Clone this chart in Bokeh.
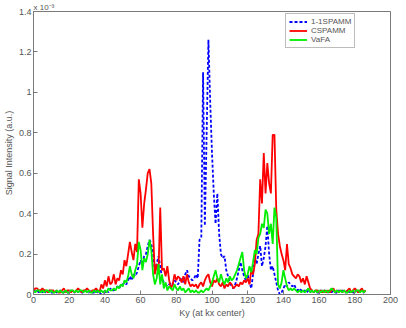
from bokeh.plotting import figure
from bokeh.models import FixedTicker, Range1d, Legend, LegendItem
from bokeh.embed import file_html
from bokeh.resources import INLINE

x_ticks = [0, 20, 40, 60, 80, 100, 120, 140, 160, 180, 200]
y_ticks = [0, 0.2, 0.4, 0.6, 0.8, 1.0, 1.2, 1.4]
y_tick_labels = ["0", "0.2", "0.4", "0.6", "0.8", "1", "1.2", "1.4"]

ky = list(range(0, 187))

spamm = [
    0.01,0.02,0.02,0.01,0.02,0.01,0.02,0.01,0.01,0.02,
    0.01,0.01,0.02,0.01,0.01,0.02,0.01,0.01,0.02,0.01,
    0.01,0.02,0.01,0.01,0.02,0.01,0.02,0.01,0.01,0.02,
    0.01,0.01,0.02,0.01,0.01,0.02,0.01,0.01,0.00,0.01,
    0.01,0.02,0.01,0.03,0.02,0.02,0.03,0.04,0.03,0.05,
    0.05,0.06,0.05,0.07,0.09,0.07,0.10,0.09,0.11,0.14,
    0.17,0.15,0.19,0.20,0.24,0.27,0.25,0.20,0.12,0.15,
    0.19,0.14,0.08,0.06,0.05,0.04,0.05,0.06,0.05,0.07,
    0.06,0.05,0.07,0.08,0.06,0.10,0.12,0.09,0.08,0.07,
    0.08,0.10,0.08,0.27,0.28,1.10,0.34,0.80,1.26,0.95,
    0.70,0.50,0.35,0.50,0.30,0.20,0.18,0.19,0.12,0.09,
    0.06,0.04,0.03,0.05,0.08,0.12,0.16,0.12,0.09,0.07,
    0.10,0.06,0.03,0.10,0.19,0.15,0.20,0.24,0.14,0.18,
    0.24,0.34,0.20,0.12,0.14,0.10,0.06,0.02,0.00,0.01,
    0.03,0.05,0.04,0.06,0.05,0.04,0.05,0.03,0.02,0.03,
    0.02,0.01,0.02,0.01,0.02,0.01,0.02,0.01,0.02,0.01,
    0.01,0.02,0.01,0.02,0.01,0.01,0.02,0.01,0.02,0.01,
    0.01,0.02,0.01,0.02,0.01,0.01,0.02,0.01,0.02,0.01,
    0.01,0.02,0.01,0.02,0.01,0.01,0.02,
]

cspamm = [
    0.02,0.03,0.03,0.02,0.02,0.03,0.02,0.02,0.01,0.02,
    0.02,0.02,0.01,0.02,0.01,0.01,0.02,0.03,0.01,0.02,
    0.02,0.01,0.02,0.01,0.02,0.03,0.02,0.01,0.02,0.02,
    0.03,0.02,0.01,0.02,0.02,0.03,0.02,0.01,0.05,0.03,
    0.07,0.04,0.09,0.05,0.06,0.10,0.05,0.08,0.07,0.12,
    0.10,0.17,0.14,0.20,0.26,0.21,0.17,0.25,0.21,0.57,
    0.50,0.33,0.45,0.52,0.60,0.62,0.55,0.30,0.10,0.15,
    0.10,0.43,0.12,0.13,0.09,0.14,0.07,0.03,0.05,0.10,
    0.07,0.09,0.08,0.06,0.09,0.05,0.10,0.06,0.04,0.05,
    0.04,0.05,0.03,0.05,0.06,0.04,0.07,0.09,0.10,0.06,
    0.04,0.07,0.06,0.08,0.05,0.04,0.06,0.03,0.05,0.04,
    0.06,0.05,0.03,0.04,0.05,0.04,0.06,0.05,0.07,0.06,
    0.08,0.05,0.12,0.10,0.15,0.27,0.30,0.57,0.45,0.70,
    0.50,0.65,0.55,0.50,0.79,0.79,0.42,0.30,0.24,0.20,
    0.17,0.12,0.25,0.15,0.13,0.10,0.09,0.08,0.10,0.09,
    0.06,0.08,0.05,0.09,0.06,0.03,0.02,0.01,0.02,0.02,
    0.01,0.02,0.01,0.02,0.01,0.02,0.01,0.02,0.03,0.01,
    0.02,0.01,0.02,0.01,0.02,0.01,0.02,0.03,0.01,0.02,
    0.03,0.02,0.01,0.02,0.03,0.01,0.02,
]

vafa = [
    0.02,0.01,0.02,0.02,0.01,0.02,0.01,0.02,0.02,0.01,
    0.02,0.01,0.01,0.02,0.01,0.02,0.01,0.01,0.02,0.01,
    0.01,0.02,0.02,0.01,0.02,0.01,0.02,0.02,0.01,0.02,
    0.01,0.02,0.01,0.01,0.02,0.01,0.02,0.01,0.02,0.01,
    0.02,0.01,0.03,0.02,0.02,0.03,0.02,0.04,0.03,0.05,
    0.04,0.07,0.06,0.09,0.14,0.10,0.08,0.12,0.15,0.26,
    0.22,0.12,0.18,0.16,0.20,0.27,0.22,0.10,0.05,0.08,
    0.15,0.05,0.10,0.03,0.06,0.02,0.04,0.03,0.02,0.05,
    0.03,0.02,0.04,0.02,0.03,0.01,0.02,0.03,0.01,0.02,
    0.01,0.02,0.01,0.01,0.02,0.01,0.02,0.03,0.02,0.04,
    0.06,0.09,0.12,0.08,0.06,0.10,0.07,0.05,0.08,0.06,
    0.09,0.07,0.08,0.10,0.12,0.15,0.18,0.21,0.12,0.08,
    0.10,0.14,0.11,0.16,0.22,0.20,0.28,0.30,0.35,0.33,
    0.42,0.40,0.30,0.35,0.25,0.43,0.38,0.05,0.03,0.06,
    0.12,0.08,0.04,0.02,0.03,0.02,0.03,0.02,0.01,0.02,
    0.01,0.02,0.01,0.02,0.03,0.01,0.02,0.01,0.02,0.01,
    0.02,0.01,0.02,0.01,0.02,0.01,0.02,0.03,0.02,0.01,
    0.02,0.01,0.02,0.01,0.02,0.01,0.01,0.02,0.01,0.02,
    0.01,0.02,0.02,0.01,0.02,0.01,0.02,
]

FONT = "Liberation Sans"
AXC = "#7a7a7a"
TXC = "#555555"

p = figure(width=398, height=320, output_backend="svg", toolbar_location=None,
           x_range=Range1d(0, 200), y_range=Range1d(0, 1.4),
           min_border_left=31, min_border_right=8, min_border_top=11, min_border_bottom=26)
p.xgrid.visible = False
p.ygrid.visible = False
p.outline_line_color = AXC
p.outline_line_width = 1

p.title.text = "x 10\u207b\u00b3"
p.title.align = "left"
p.title.text_font = FONT
p.title.text_font_size = "8px"
p.title.text_font_style = "normal"
p.title.text_color = TXC
p.title.offset = 0
p.title.standoff = 0

for ax in (p.xaxis[0], p.yaxis[0]):
    ax.axis_line_color = AXC
    ax.major_tick_line_color = AXC
    ax.major_tick_in = 4
    ax.major_tick_out = 0
    ax.minor_tick_line_color = None
    ax.major_label_text_font = FONT
    ax.major_label_text_font_size = "9px"
    ax.major_label_text_color = TXC
    ax.axis_label_text_font = FONT
    ax.axis_label_text_font_size = "9px"
    ax.axis_label_text_color = TXC
    ax.axis_label_text_font_style = "normal"
    ax.major_label_standoff = 2
    ax.axis_label_standoff = 2

p.xaxis[0].ticker = FixedTicker(ticks=x_ticks)
p.yaxis[0].ticker = FixedTicker(ticks=y_ticks)
p.yaxis[0].major_label_overrides = {t: s for t, s in zip(y_ticks, y_tick_labels)}
p.xaxis[0].axis_label = "Ky (at kx center)"
p.yaxis[0].axis_label = "Signal Intensity (a.u.)"

r_blue = p.line(ky, spamm, line_color="#0000ff", line_width=1.8, line_dash="3 2")
r_red = p.line(ky, cspamm, line_color="#ff0000", line_width=1.8)
r_green = p.line(ky, vafa, line_color="#00ee00", line_width=1.8)

legend = Legend(items=[LegendItem(label="1-1SPAMM", renderers=[r_blue]),
                       LegendItem(label="CSPAMM", renderers=[r_red]),
                       LegendItem(label="VaFA", renderers=[r_green])],
                location=(252, 246), label_text_font=FONT, label_text_font_size="8px",
                label_text_color=TXC, glyph_height=9, glyph_width=18, label_height=9,
                spacing=0, padding=3, margin=0, border_line_color=AXC,
                label_standoff=4)
p.add_layout(legend, "center")

open("out.html", "w").write(file_html(p, INLINE))
